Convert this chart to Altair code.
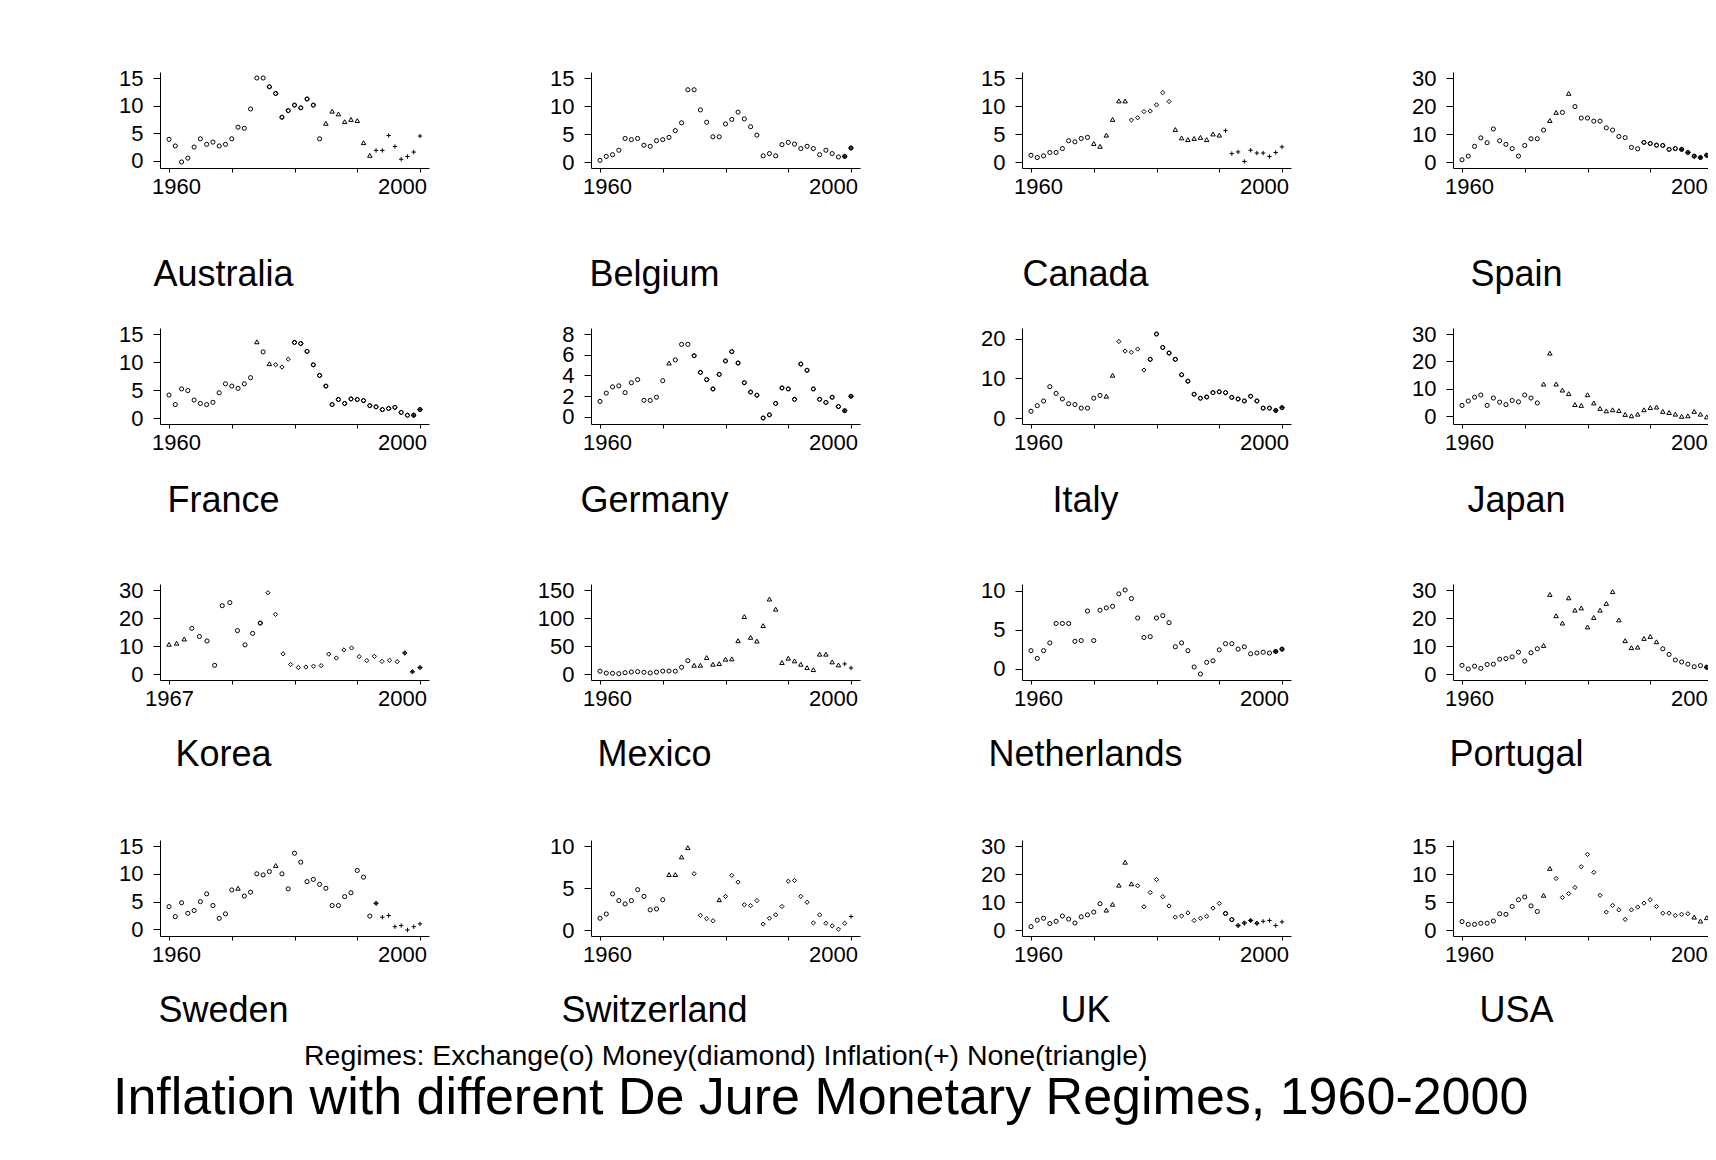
import altair as alt
import pandas as pd

COUNTRIES = ["Australia", "Belgium", "Canada", "Spain",
             "France", "Germany", "Italy", "Japan",
             "Korea", "Mexico", "Netherlands", "Portugal",
             "Sweden", "Switzerland", "UK", "USA"]

START_YEAR = {"Korea": 1967}

# Inflation (%) per year, 1960-2000 (Korea 1967-2000)
INFL = {
    "Australia": [3.9, 2.7, -0.2, 0.5, 2.5, 4.0, 3.0, 3.4, 2.7, 3.0,
                  4.0, 6.1, 5.9, 9.4, 15.0, 15.0, 13.4, 12.2, 7.9, 9.1,
                  10.1, 9.6, 11.2, 10.1, 4.0, 6.8, 9.0, 8.5, 7.1, 7.5,
                  7.3, 3.3, 1.0, 1.9, 1.9, 4.6, 2.6, 0.3, 0.8, 1.6, 4.5],
    "Belgium": [0.3, 1.0, 1.3, 2.1, 4.2, 4.0, 4.2, 3.0, 2.8, 3.8,
                4.0, 4.4, 5.6, 7.0, 12.9, 12.9, 9.3, 7.1, 4.5, 4.5,
                6.8, 7.6, 8.9, 7.7, 6.3, 4.8, 1.1, 1.5, 1.1, 3.1,
                3.5, 3.2, 2.4, 2.8, 2.4, 1.3, 2.1, 1.5, 0.9, 1.0, 2.5],
    "Canada": [1.2, 0.8, 1.1, 1.7, 1.7, 2.4, 3.8, 3.6, 4.2, 4.4,
               3.3, 2.8, 4.8, 7.6, 10.9, 10.9, 7.5, 7.9, 9.0, 9.1,
               10.2, 12.4, 10.8, 5.8, 4.3, 4.0, 4.2, 4.4, 4.0, 5.0,
               4.8, 5.6, 1.5, 1.8, 0.1, 2.1, 1.6, 1.6, 1.0, 1.7, 2.7],
    "Spain": [0.8, 2.1, 5.6, 8.6, 6.9, 11.8, 7.6, 6.3, 4.8, 2.1,
              5.9, 8.3, 8.3, 11.4, 14.8, 17.7, 17.7, 24.5, 19.8, 15.7,
              15.7, 14.6, 14.6, 12.2, 11.4, 9.1, 8.7, 5.2, 4.7, 7.0,
              6.6, 6.0, 5.9, 4.5, 4.8, 4.5, 3.4, 2.1, 1.6, 2.4, 3.4],
    "France": [4.1, 2.4, 5.2, 4.9, 3.2, 2.6, 2.4, 2.8, 4.5, 6.1,
               5.7, 5.3, 6.1, 7.2, 13.6, 11.8, 9.7, 9.5, 9.1, 10.5,
               13.5, 13.3, 11.9, 9.5, 7.6, 5.7, 2.4, 3.3, 2.6, 3.4,
               3.3, 3.1, 2.2, 2.0, 1.5, 1.7, 1.9, 1.0, 0.5, 0.5, 1.5],
    "Germany": [1.5, 2.3, 2.9, 3.0, 2.35, 3.3, 3.6, 1.6, 1.6, 1.9,
                3.5, 5.2, 5.5, 7.0, 7.0, 5.9, 4.3, 3.6, 2.7, 4.1,
                5.4, 6.3, 5.2, 3.3, 2.4, 2.1, -0.1, 0.2, 1.3, 2.8,
                2.7, 1.7, 5.1, 4.5, 2.7, 1.7, 1.4, 1.9, 1.0, 0.6, 2.0],
    "Italy": [1.7, 3.1, 4.3, 7.9, 6.2, 4.8, 3.6, 3.4, 2.5, 2.5,
              5.0, 5.7, 5.5, 10.8, 19.3, 16.9, 16.6, 17.4, 12.1, 14.8,
              21.2, 17.8, 16.4, 14.8, 10.9, 9.3, 6.0, 5.0, 5.3, 6.4,
              6.6, 6.4, 5.2, 4.8, 4.3, 5.5, 4.3, 2.5, 2.5, 1.9, 2.6],
    "Japan": [3.9, 5.5, 6.9, 7.7, 3.9, 6.6, 5.1, 4.2, 5.7, 5.2,
              7.7, 6.6, 4.8, 11.7, 23.0, 11.7, 9.5, 8.2, 4.2, 3.9,
              7.8, 4.8, 2.8, 1.9, 2.3, 2.0, 0.6, 0.1, 0.7, 2.3,
              3.1, 3.3, 1.7, 1.3, 0.7, -0.1, 0.1, 1.7, 0.7, -0.3, -0.7],
    "Korea": [10.6, 11.0, 12.5, 16.3, 13.4, 11.8, 3.1, 24.4, 25.5, 15.5,
              10.4, 14.5, 18.2, 29.0, 21.3, 7.2, 3.4, 2.3, 2.5, 2.8,
              3.0, 7.1, 5.7, 8.6, 9.3, 6.2, 4.8, 6.3, 4.5, 4.9,
              4.4, 7.5, 0.8, 2.3],
    "Mexico": [5.0, 1.6, 1.2, 0.6, 2.3, 3.6, 4.2, 3.0, 1.9, 3.4,
               5.2, 5.3, 5.0, 12.0, 23.8, 15.6, 15.6, 29.4, 17.4, 18.6,
               26.4, 27.0, 59.4, 102.6, 65.4, 58.8, 86.4, 133.8, 115.8, 20.4,
               28.2, 23.4, 17.4, 11.4, 7.8, 35.4, 35.4, 21.6, 16.2, 18.0, 10.8],
    "Netherlands": [2.3, 1.3, 2.3, 3.3, 5.8, 5.8, 5.8, 3.5, 3.6, 7.4,
                    3.6, 7.5, 7.8, 8.0, 9.6, 10.1, 9.0, 6.5, 4.0, 4.1,
                    6.5, 6.8, 5.9, 2.8, 3.3, 2.3, 0.2, -0.7, 0.8, 1.0,
                    2.4, 3.2, 3.2, 2.5, 2.8, 1.9, 2.0, 2.1, 2.0, 2.2, 2.5],
    "Portugal": [3.1, 1.8, 2.8, 2.0, 3.4, 3.5, 5.3, 5.5, 6.1, 7.8,
                 4.6, 7.6, 9.0, 10.2, 28.4, 20.8, 18.2, 27.2, 22.8, 23.6,
                 16.8, 20.2, 22.8, 25.2, 29.4, 19.3, 11.9, 9.4, 9.6, 12.7,
                 13.4, 11.5, 9.0, 7.0, 5.0, 4.3, 3.5, 2.6, 3.0, 2.4, 2.6],
    "Sweden": [4.1, 2.3, 4.8, 2.9, 3.4, 5.0, 6.4, 4.3, 2.0, 2.8,
               7.1, 7.4, 6.0, 6.7, 10.0, 9.8, 10.4, 11.5, 10.0, 7.3,
               13.7, 12.1, 8.6, 9.0, 8.1, 7.4, 4.3, 4.3, 5.9, 6.6,
               10.6, 9.4, 2.4, 4.7, 2.2, 2.5, 0.5, 0.7, -0.1, 0.5, 1.0],
    "Switzerland": [1.4, 1.9, 4.3, 3.5, 3.1, 3.5, 4.8, 4.0, 2.4, 2.5,
                    3.6, 6.6, 6.6, 8.7, 9.8, 6.7, 1.75, 1.35, 1.1, 3.6,
                    4.0, 6.5, 5.7, 3.0, 2.9, 3.5, 0.7, 1.4, 1.8, 2.8,
                    5.8, 5.9, 4.0, 3.3, 0.85, 1.8, 0.8, 0.5, 0.1, 0.8, 1.6],
    "UK": [1.2, 3.5, 4.2, 2.3, 3.1, 5.0, 3.9, 2.5, 4.7, 5.4,
           6.4, 9.4, 7.1, 9.2, 16.0, 24.2, 16.5, 15.8, 8.3, 13.4,
           18.0, 11.9, 8.6, 4.6, 5.0, 6.1, 3.4, 4.2, 4.9, 7.8,
           9.5, 5.9, 3.7, 1.6, 2.5, 3.4, 2.4, 3.1, 3.4, 1.6, 2.9],
    "USA": [1.5, 1.0, 1.0, 1.2, 1.2, 1.6, 2.9, 2.8, 4.2, 5.4,
            5.9, 4.3, 3.3, 6.2, 11.0, 9.2, 5.8, 6.5, 7.6, 11.3,
            13.5, 10.3, 6.2, 3.2, 4.4, 3.6, 1.9, 3.6, 4.1, 4.8,
            5.4, 4.2, 3.0, 3.0, 2.6, 2.8, 2.9, 2.3, 1.6, 2.2, 3.4],
}

# De jure regimes per year: E=Exchange, M=Money, I=Inflation, N=None
REGIME = {
    "Australia": "E E E E E E E E E E E E E E E E EM EM EM EM EM EM EM EM E N N N N N N N N I I I I I I I I",
    "Belgium": "E E E E E E E E E E E E E E E E E E E E E E E E E E E E E E E E E E E E E E E EMI EMI",
    "Canada": "E E E E E E E E E E N N N N N N M M M M M M M N N N N N N N N I I I I I I I I I I",
    "Spain": "E E E E E E E E E E E E E E N N E N E E E E E E E E E E E EM EM EM EM EM EM EMI EMI EMI EMI EMI EMI",
    "France": "E E E E E E E E E E E E E E N E N M M M EM EM EM EM EM EM EM EM EM EM EM EM EM EM EM EM EM EM EM EMI EMI",
    "Germany": "E E E E E E E E E E E N E E E EM EM EM EM EM EM EM EM EM EM EM EM EM EM EM EM EM EM EM EM EM EM EM EM EMI EMI",
    "Italy": "E E E E E E E E E E E E N N M M M M M EM EM EM EM EM EM EM EM EM EM EM EM EM EM EM EM EM EM EM EM EMI EMI",
    "Japan": "E E E E E E E E E E E E E N N N N N N N N N N N N N N N N N N N N N N N N N N N N",
    "Korea": "N N N E E E E E E E E E EM M M M M M M M M M M M M M M M M M M MI MI MI",
    "Mexico": "E E E E E E E E E E E E E E E N N N N N N N N N N N N N N N N N N N N N N N N I I",
    "Netherlands": "E E E E E E E E E E E E E E E E E E E E E E E E E E E E E E E E E E E E E E E EMI EMI",
    "Portugal": "E E E E E E E E E E E E E N N N N N N N N N N N N N N N N N N N E E E E E E E EMI EMI",
    "Sweden": "E E E E E E E E E E E N E E E E E N E E E E E E E E E E E E E E E MI I I I I I I I",
    "Switzerland": "E E E E E E E E E E E N N N N M M M M N M M M M M M M M M M M M M M M M M M M M I",
    "UK": "E E E E E E E E E E E E N N N N N M M M M M M M M M M M M M M EM EM MI MI MI MI I I I I",
    "USA": "E E E E E E E E E E E E E N N M M M M M M M M M M M M M M M M M M M M M M N N N N",
}

Y_TICKS = {
    "Australia": [0, 5, 10, 15], "Belgium": [0, 5, 10, 15], "Canada": [0, 5, 10, 15],
    "Spain": [0, 10, 20, 30], "France": [0, 5, 10, 15], "Germany": [0, 2, 4, 6, 8],
    "Italy": [0, 10, 20], "Japan": [0, 10, 20, 30], "Korea": [0, 10, 20, 30],
    "Mexico": [0, 50, 100, 150], "Netherlands": [0, 5, 10], "Portugal": [0, 10, 20, 30],
    "Sweden": [0, 5, 10, 15], "Switzerland": [0, 5, 10], "UK": [0, 10, 20, 30],
    "USA": [0, 5, 10, 15],
}

END_YEAR = 2000
REG_CODES = ["E", "M", "I", "N"]
PLUS = "M-1,0L1,0M0,-1L0,1"
SHAPES = ["circle", "diamond", PLUS, "triangle-up"]
SIZES = [17, 20, 32, 20]

FOOTER = "Regimes: Exchange(o) Money(diamond) Inflation(+) None(triangle)"
TITLE = "Inflation with different De Jure Monetary Regimes, 1960-2000"
FONT = "Liberation Sans"

PW, PH = 269, 96


def panel(idx, name):
    start = START_YEAR.get(name, 1960)
    vals = INFL[name]
    regs = REGIME[name].split()
    rows = []
    for i, (v, r) in enumerate(zip(vals, regs)):
        for code in r:
            rows.append({"year": start + i, "value": v, "regime": code})
    df = pd.DataFrame(rows)
    ticks = Y_TICKS[name]
    lo = min(min(vals), min(ticks))
    hi = max(max(vals), max(ticks))
    xt = [start + k * (END_YEAR - start) / 4 for k in range(5)]
    lab = f"datum.value == {start} || datum.value == {END_YEAR} ? format(datum.value, 'd') : ''"
    first_shift = 7 if start == 1960 else 0
    lab_offset = {"condition": [{"test": f"datum.value == {END_YEAR}", "value": -18},
                                {"test": f"datum.value == {start}", "value": first_shift}],
                  "value": 0}
    row = idx // 4
    title_offset = {0: 61, 1: 31}.get(row, 29)
    return alt.Chart(df).mark_point(
        filled=False, color="black", strokeWidth=1, opacity=1
    ).encode(
        x=alt.X("year:Q",
                scale=alt.Scale(domain=[start, END_YEAR], nice=False, zero=False, padding=9),
                axis=alt.Axis(values=xt, labelExpr=lab, title=None, grid=False,
                              tickSize=4, labelPadding=4, labelFlush=False,
                              labelOverlap=False, labelOffset=lab_offset)),
        y=alt.Y("value:Q",
                scale=alt.Scale(domain=[lo, hi], nice=False, zero=False, padding=6),
                axis=alt.Axis(values=ticks, title=None, grid=False, tickSize=7,
                              labelPadding=10, labelOverlap=False, labelFlush=False,
                              format="d")),
        shape=alt.Shape("regime:N", scale=alt.Scale(domain=REG_CODES, range=SHAPES), legend=None),
        size=alt.Size("regime:O", scale=alt.Scale(domain=REG_CODES, range=SIZES), legend=None),
    ).properties(
        width=PW, height=PH,
        title=alt.TitleParams(text=name, orient="bottom", anchor="middle", frame="group",
                              dx=-71, offset=title_offset, fontSize=36, font=FONT,
                              fontWeight="normal", color="black"),
    )


grid = alt.concat(*[panel(i, c) for i, c in enumerate(COUNTRIES)], columns=4,
                  spacing={"row": 160, "column": 162}, bounds="flush",
                  title=alt.TitleParams(text=FOOTER, orient="bottom", anchor="start",
                                        frame="group", dx=144, offset=13, fontSize=28.5,
                                        font=FONT, fontWeight="normal", color="black"))

chart = alt.vconcat(grid).properties(
    title=alt.TitleParams(text=TITLE, orient="bottom", anchor="start", frame="group",
                          dx=-47, offset=2, fontSize=52, font=FONT,
                          fontWeight="normal", color="black"),
    autosize=alt.AutoSizeParams(type="none"),
    padding={"left": 152, "top": 64, "right": 1548, "bottom": 1080},
    background="white",
).configure_view(stroke=None).configure_axis(
    domainColor="black", tickColor="black", labelColor="black",
    labelFont=FONT, labelFontSize=22, domainWidth=1, tickWidth=1,
).configure_concat(spacing=0)

chart.save("out.html", embed_options={"renderer": "svg", "actions": False})
